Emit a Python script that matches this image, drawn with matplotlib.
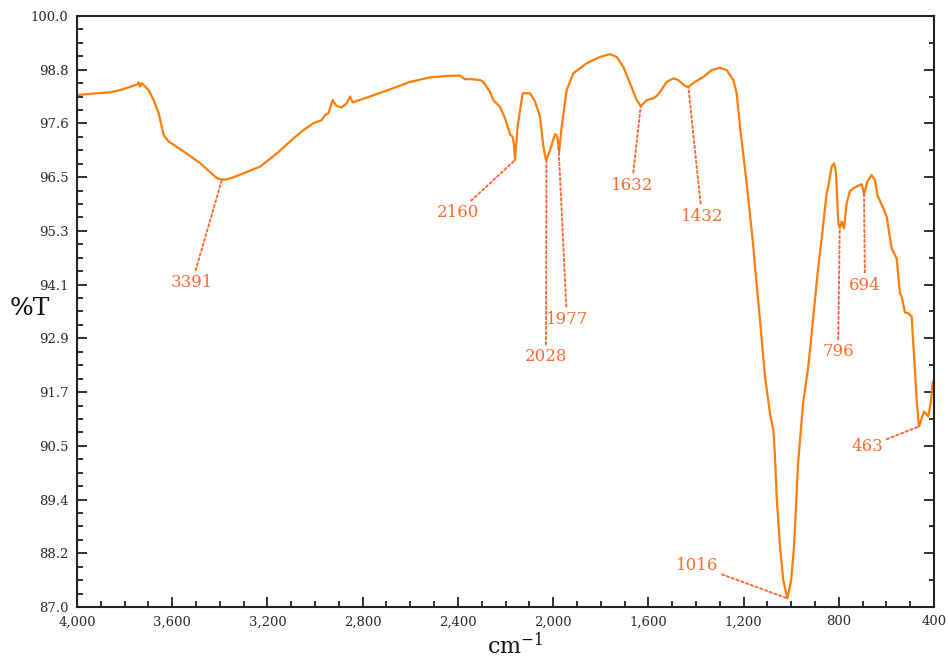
import numpy as np
import matplotlib
matplotlib.use("Agg")
import matplotlib.pyplot as plt
from matplotlib.ticker import MultipleLocator, FixedLocator, FuncFormatter

# FTIR spectrum (wavenumber in cm-1, %T)
wavenumber = [
    4000, 3916, 3861, 3819, 3777, 3745, 3741, 3735, 3728, 3720, 3699, 3678,
    3657, 3636, 3615, 3552, 3482, 3412, 3391, 3370, 3349, 3300, 3230, 3160,
    3090, 3049, 3007, 2972, 2958, 2944, 2926, 2918, 2909, 2888, 2867, 2853,
    2842, 2769, 2657, 2601, 2517, 2447, 2391, 2370, 2342, 2307, 2293, 2265,
    2251, 2223, 2202, 2181, 2170, 2165, 2160, 2149, 2128, 2097, 2076, 2055,
    2041, 2030, 2020, 2013, 1998, 1992, 1985, 1981, 1975, 1964, 1943, 1915,
    1859, 1803, 1761, 1733, 1719, 1705, 1677, 1649, 1632, 1607, 1579, 1565,
    1551, 1523, 1495, 1474, 1446, 1432, 1404, 1369, 1334, 1299, 1271, 1243,
    1229, 1215, 1187, 1159, 1152, 1131, 1110, 1089, 1075, 1068, 1061, 1047,
    1033, 1016, 1000, 988, 971, 950, 936, 928, 907, 886, 872, 865,
    851, 844, 830, 820, 812, 802, 796, 788, 778, 767, 753, 739,
    725, 704, 694, 680, 662, 648, 638, 613, 599, 578, 557, 543,
    536, 522, 508, 494, 480, 473, 463, 442, 424, 414, 406, 400,
]
transmittance = [
    98.26, 98.30, 98.32, 98.37, 98.44, 98.50, 98.54, 98.45, 98.52, 98.48, 98.37, 98.15,
    97.86, 97.38, 97.24, 97.02, 96.76, 96.43, 96.40, 96.41, 96.44, 96.54, 96.69, 96.98,
    97.31, 97.49, 97.64, 97.71, 97.82, 97.86, 98.15, 98.08, 98.02, 97.99, 98.08, 98.23,
    98.10, 98.23, 98.44, 98.55, 98.65, 98.68, 98.69, 98.61, 98.61, 98.59, 98.55, 98.33,
    98.15, 98.00, 97.75, 97.40, 97.34, 97.20, 96.83, 97.57, 98.30, 98.30, 98.12, 97.78,
    97.13, 96.83, 96.95, 97.05, 97.30, 97.40, 97.38, 97.30, 97.01, 97.57, 98.37, 98.74,
    98.96, 99.10, 99.16, 99.10, 98.99, 98.88, 98.52, 98.15, 98.02, 98.15, 98.19, 98.24,
    98.33, 98.55, 98.63, 98.59, 98.46, 98.44, 98.55, 98.66, 98.81, 98.86, 98.81, 98.59,
    98.30, 97.57, 96.32, 94.93, 94.49, 93.31, 92.07, 91.26, 90.89, 90.31, 89.43, 88.33,
    87.59, 87.19, 87.59, 88.33, 90.16, 91.48, 91.99, 92.29, 93.40, 94.49, 95.10, 95.44,
    96.10, 96.25, 96.69, 96.76, 96.58, 95.45, 95.33, 95.48, 95.33, 95.88, 96.15, 96.21,
    96.25, 96.30, 96.08, 96.36, 96.50, 96.39, 96.06, 95.77, 95.59, 94.89, 94.67, 93.90,
    93.83, 93.48, 93.46, 93.39, 92.20, 91.55, 90.97, 91.30, 91.19, 91.48, 91.92, 92.00,
]

peaks = [3391, 2160, 2028, 1977, 1632, 1432, 1016, 796, 694, 463]
# where each peak label sits (wavenumber, %T)
label_pos = [(3517, 94.13), (2400, 95.67), (2030, 92.50), (1942, 93.33),
             (1669, 96.28), (1375, 95.60), (1396, 87.92), (803, 92.61),
             (690, 94.08), (682, 90.52)]

line_color = "#FF7D0A"
text_color = "#FF6A33"

plt.rcParams["font.family"] = ["DejaVu Serif"]
plt.rcParams["mathtext.fontset"] = "dejavuserif"

fig = plt.figure(figsize=(9.48, 6.62), dpi=100)
ax = fig.add_axes([77 / 948, 1 - 607 / 662, (934 - 77) / 948, (607 - 16) / 662])

ax.plot(wavenumber, transmittance, color=line_color, lw=1.6)

ax.set_xlim(4000, 400)
ax.set_ylim(87.0, 100.0)

# x axis
ax.xaxis.set_major_locator(MultipleLocator(400))
ax.xaxis.set_minor_locator(MultipleLocator(100))
ax.xaxis.set_major_formatter(FuncFormatter(lambda v, p: f"{v:,.0f}"))

# y axis: 11 equal steps between 87 and 100
yticks = np.linspace(87.0, 100.0, 12)
ax.yaxis.set_major_locator(FixedLocator(yticks))
ax.yaxis.set_minor_locator(FixedLocator(np.linspace(87.0, 100.0, 45)))
ax.yaxis.set_major_formatter(FuncFormatter(lambda v, p: f"{v:.1f}"))

ax.tick_params(which="both", direction="in", top=False, right=False,
               color="#222222", width=1.3, labelcolor="#2a2a2a", labelsize=9.5)
ax.tick_params(which="major", length=7.5)
ax.tick_params(which="minor", length=4.3)
ax.tick_params(axis="y", pad=6)
ax.tick_params(axis="x", pad=6)

for s in ax.spines.values():
    s.set_color("#222222")
    s.set_linewidth(1.5)

# right side ticks (no labels)
sec = ax.secondary_yaxis("right")
sec.yaxis.set_major_locator(FixedLocator(yticks))
sec.yaxis.set_minor_locator(FixedLocator((yticks[:-1] + yticks[1:]) / 2))
sec.tick_params(which="both", direction="in", labelright=False,
                color="#222222", width=1.3)
sec.tick_params(which="major", length=7.5)
sec.tick_params(which="minor", length=3.8)
sec.spines["right"].set_visible(False)

# peak annotations
for pk, (tx, ty) in zip(peaks, label_pos):
    py = np.interp(pk, wavenumber[::-1], transmittance[::-1])
    ax.annotate(str(pk), xy=(pk, py), xytext=(tx, ty),
                ha="center", va="center", fontsize=12, color=text_color,
                arrowprops=dict(arrowstyle="-", color=text_color, lw=1.4,
                                linestyle=(0, (1.2, 1.4)),
                                shrinkA=1, shrinkB=0))

fig.text(30 / 948, 1 - 309 / 662, "%T", ha="center", va="center",
         fontsize=18, color="#111111")
fig.text(515 / 948, 0.004, "cm$^{-1}$", ha="center", va="bottom",
         fontsize=16, color="#111111")

fig.savefig("out.png", dpi=100)
